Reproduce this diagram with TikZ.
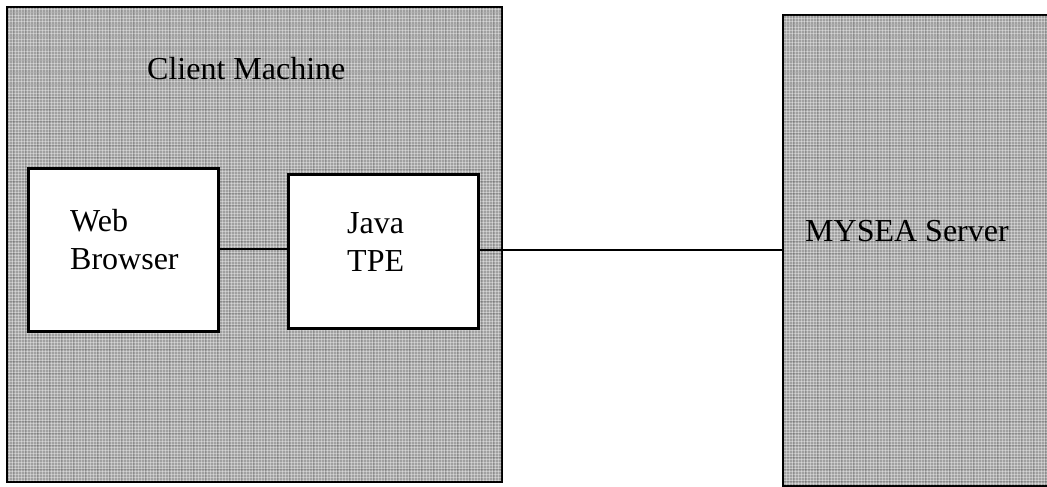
\documentclass[tikz,border=0pt]{standalone}
\usepackage{fontspec}
\setmainfont{Liberation Serif}
\definecolor{plaid}{RGB}{160,160,160}
\tikzset{
  machine/.style={draw=black, line width=2.5pt, fill=plaid},
  appbox/.style={draw=black, line width=2.5pt, fill=white},
  link/.style={draw=black, line width=1.8pt},
  lbl/.style={font=\fontsize{32}{37.5}\selectfont, inner sep=0pt, anchor=base west, align=left},
}
\begin{document}
\begin{tikzpicture}[x=1pt, y=-1pt]
\useasboundingbox (0,0) rectangle (1047,487);
% client machine and server
\path[machine] (7,7) rectangle (502,482);
\path[machine] (783,15) rectangle (1060,486);
% checked texture on the grey areas
\begin{scope}
  \clip (8,8) rectangle (501,481) (784,16) rectangle (1047,485);
  \foreach \i in {0,3,...,1047} {
    \draw[white, opacity=0.35, line width=0.8pt] (\i,0) -- (\i,487);
  }
  \foreach \j in {0,3,...,487} {
    \draw[white, opacity=0.35, line width=0.8pt] (0,\j) -- (1047,\j);
  }
  \foreach \i in {1,13,...,1047} {
    \draw[black, opacity=0.12, line width=1pt] (\i,0) -- (\i,487);
  }
  \foreach \j in {1,13,...,487} {
    \draw[black, opacity=0.12, line width=1pt] (0,\j) -- (1047,\j);
  }
\end{scope}
% applications
\node[appbox, minimum width=190pt, minimum height=163pt, anchor=north west] (web) at (27,167) {};
\node[appbox, minimum width=190pt, minimum height=154pt, anchor=north west] (tpe) at (287,173) {};
\coordinate (srv) at (783,250);
\coordinate (tpeout) at (tpe.east |- srv);
% connectors
\draw[link] (web.east |- 0,249) -- (tpe.west |- 0,249);
\draw[link] (tpeout) -- (srv);
% labels (two-line labels are placed by their last baseline)
\node[lbl] (cm) at (147,80) {Client Machine};
\node[lbl] (wb) at (70,269) {Web\\Browser};
\node[lbl] (jt) at (347,271) {Java\\TPE};
\node[lbl] (ms) at (805,241) {MYSEA Server};
\end{tikzpicture}
\end{document}
